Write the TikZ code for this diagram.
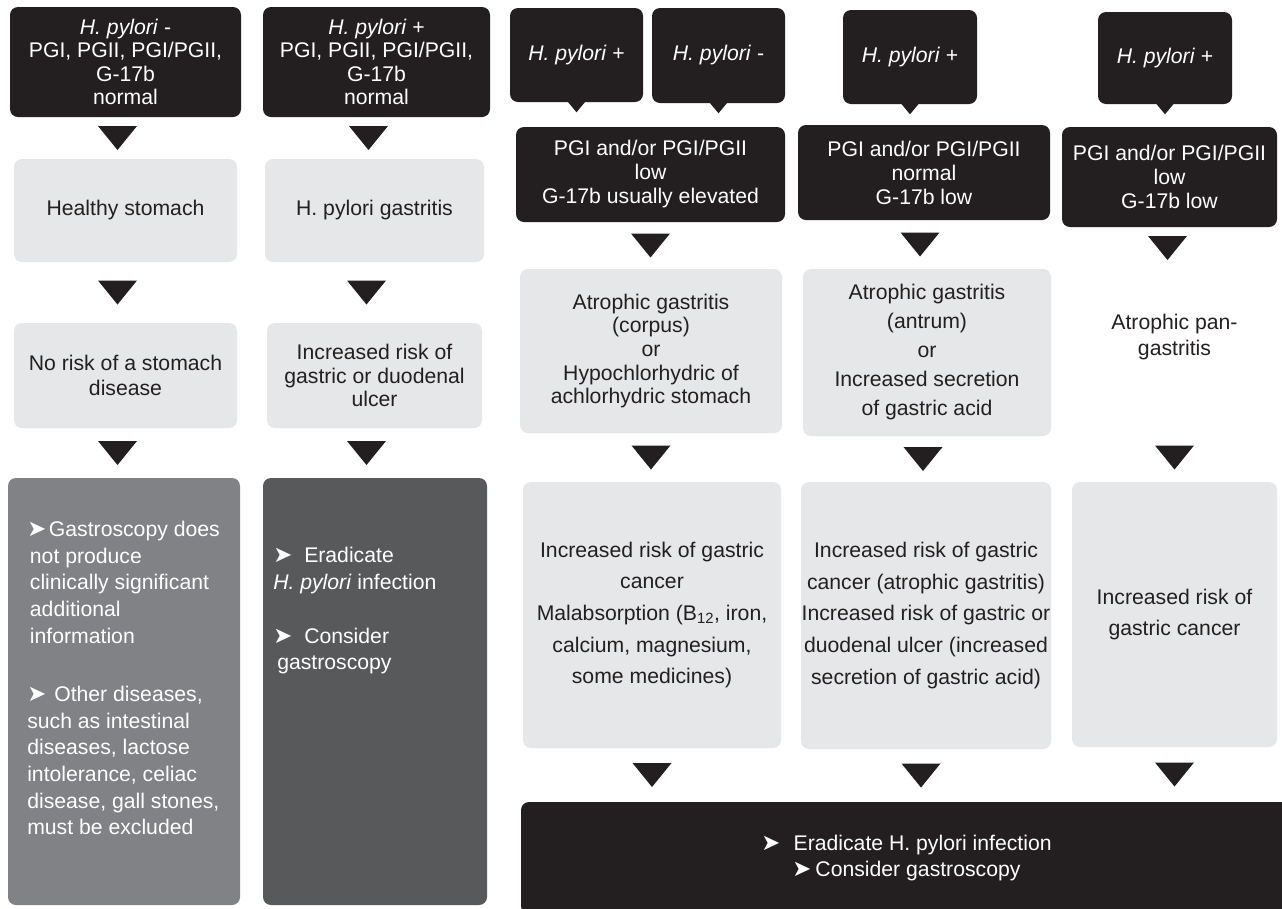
\documentclass[tikz,border=0pt]{standalone}
\usepackage{fontspec}
\setmainfont{Liberation Sans}
\newfontfamily\dvfont{DejaVu Sans}
\usetikzlibrary{calc}
\definecolor{boxblack}{RGB}{35,31,32}
\definecolor{boxlight}{RGB}{230,231,232}
\definecolor{boxgray}{RGB}{128,130,133}
\definecolor{boxdark}{RGB}{88,89,91}
\newcommand\arrowhd{{\dvfont\fontsize{17}{17}\selectfont ➤}}
\newcommand\conn[3][0]{%
  \coordinate (tmpc) at (#2.south |- #3.north);
  \path ($(#2.south)!0.5!(tmpc)+(#1,0)$) pic {tri};}
\newcommand\tail[1]{%
  \fill[boxblack] ($(#1.south)+(-10,-2)$) -- ($(#1.south)+(0,10)$) -- ($(#1.south)+(10,-2)$) -- cycle;}
\begin{document}
\begin{tikzpicture}[x=0.75pt,y=-0.75pt,
  fs/.style={font=\fontsize{15.9}{#1}\selectfont},
  sz/.style 2 args={minimum width=#1*0.75pt, minimum height=#2*0.75pt},
  boxbase/.style={rounded corners=6pt, inner sep=0pt, align=center},
  blackbox/.style={boxbase, fill=boxblack, text=white},
  lightbox/.style={boxbase, fill=boxlight, text=boxblack},
  graybox/.style={boxbase, fill=boxgray, text=white},
  darkbox/.style={boxbase, fill=boxdark, text=white},
  ghostbox/.style={boxbase, text=boxblack},
  bodytext/.style={inner sep=0pt, align=left, anchor=north west, text=white},
  tri/.pic={\fill[boxblack] (-19.5,-12) -- (19.5,-12) -- (0,12) -- cycle;},
]
\useasboundingbox (0,0) rectangle (1282,908);
\fill[white] (0,0) rectangle (1282,908);
\clip (0,0) rectangle (1282,908);

% column 1
\node[blackbox, sz={231}{110}, fs=17.5pt] (t1) at (125.5,62) {\textit{H. pylori} -\\PGI, PGII, PGI/PGII,\\G-17b\\normal};
\node[lightbox, sz={223}{103}, fs=18pt] (h1) at (125.5,210.5) {Healthy stomach};
\node[lightbox, sz={223}{105}, fs=18.75pt] (r1) at (125.5,375.5) {No risk of a stomach\\disease};
\node[graybox, sz={232}{427}] (g1) at (124,691.5) {};
\node[bodytext, fs=20pt] (g1text) at (27,521) {\arrowhd\hspace{2pt}Gastroscopy does\\
\hspace*{2pt}not produce\\
\hspace*{2pt}clinically significant\\
\hspace*{2pt}additional\\
\hspace*{2pt}information\\[23.7pt]
\arrowhd\hspace{6pt}Other diseases,\\
such as intestinal\\
diseases, lactose\\
intolerance, celiac\\
disease, gall stones,\\
must be excluded};

% column 2
\node[blackbox, sz={227}{110}, fs=17.5pt] (t2) at (376.5,62) {\textit{H. pylori} +\\PGI, PGII, PGI/PGII,\\G-17b\\normal};
\node[lightbox, sz={219}{103}, fs=18pt] (h2) at (374.5,210.5) {H. pylori gastritis};
\node[lightbox, sz={215}{105}, fs=17.5pt] (r2) at (374.5,375.5) {Increased risk of\\gastric or duodenal\\ulcer};
\node[darkbox, sz={224}{427}] (g2) at (375,691.5) {};
\node[bodytext, fs=20pt] (g2text) at (273,547) {\arrowhd\hspace{9pt}Eradicate\\
\textit{H. pylori} infection\\[20.5pt]
\arrowhd\hspace{9pt}Consider\\
\hspace*{3pt}gastroscopy};

% speech bubbles
\node[blackbox, sz={133}{94}, fs=18pt] (b1) at (576.5,55) {\textit{H. pylori} +};
\node[blackbox, sz={133}{95}, fs=18pt] (b2) at (718.5,55.5) {\textit{H. pylori} -};
\node[blackbox, sz={134}{94}, fs=18pt] (b3) at (910,57) {\textit{H. pylori} +};
\node[blackbox, sz={134}{92}, fs=18pt] (b4) at (1165,58) {\textit{H. pylori} +};
\tail{b1}\tail{b2}\tail{b3}\tail{b4}

% serological boxes
\node[blackbox, sz={269}{95}, fs=18pt] (p1) at (650.5,174.5) {PGI and/or PGI/PGII\\low\\G-17b usually elevated};
\node[blackbox, sz={252}{95}, fs=18pt] (p2) at (924,172.5) {PGI and/or PGI/PGII\\normal\\G-17b low};
\node[blackbox, sz={215}{100}, fs=18pt] (p3) at (1169.5,177) {PGI and/or PGI/PGII\\low\\G-17b low};

% diagnoses
\node[lightbox, sz={262}{164}, fs=17.75pt] (a1) at (651,351) {Atrophic gastritis\\(corpus)\\or\\Hypochlorhydric of\\achlorhydric stomach};
\node[lightbox, sz={248}{167}, fs=21.75pt] (a2) at (927,352.5) {Atrophic gastritis\\(antrum)\\or\\Increased secretion\\of gastric acid};
\node[ghostbox, sz={205}{164}] (a3) at (1174.5,351) {};
\node[align=center, inner sep=0pt, text=boxblack, fs=20pt] (a3text) at (1174.5,337) {Atrophic pan-\\gastritis};

% risks
\node[lightbox, sz={258}{266}, fs=23.75pt] (c1) at (652,615) {Increased risk of gastric\\cancer\\Malabsorption (B\textsubscript{12}, iron,\\calcium, magnesium,\\some medicines)};
\node[lightbox, sz={250}{267}, fs=23.75pt] (c2) at (926,615.5) {Increased risk of gastric\\cancer (atrophic gastritis)\\Increased risk of gastric or\\duodenal ulcer (increased\\secretion of gastric acid)};
\node[lightbox, sz={205}{265}, fs=23.75pt] (c3) at (1174.5,614.5) {Increased risk of\\gastric cancer};

% final action box
\node[blackbox, sz={771}{112}, fs=20pt] (f) at (906.5,858) {\arrowhd\hspace{10pt}Eradicate H. pylori infection\\\arrowhd\hspace{3pt}Consider gastroscopy};

% connectors
\conn[-8]{t1}{h1}
\conn[-8]{h1}{r1}
\conn[-8]{r1}{g1}
\conn[-8]{t2}{h2}
\conn[-8]{h2}{r2}
\conn[-8]{r2}{g2}
\conn{p1}{a1}
\conn{a1}{c1}
\conn{c1}{f}
\conn[-4]{p2}{a2}
\conn[-4]{a2}{c2}
\conn[-5]{c2}{f}
\conn[-2]{p3}{a3}
\conn{a3}{c3}
\conn{c3}{f}
\end{tikzpicture}
\end{document}
